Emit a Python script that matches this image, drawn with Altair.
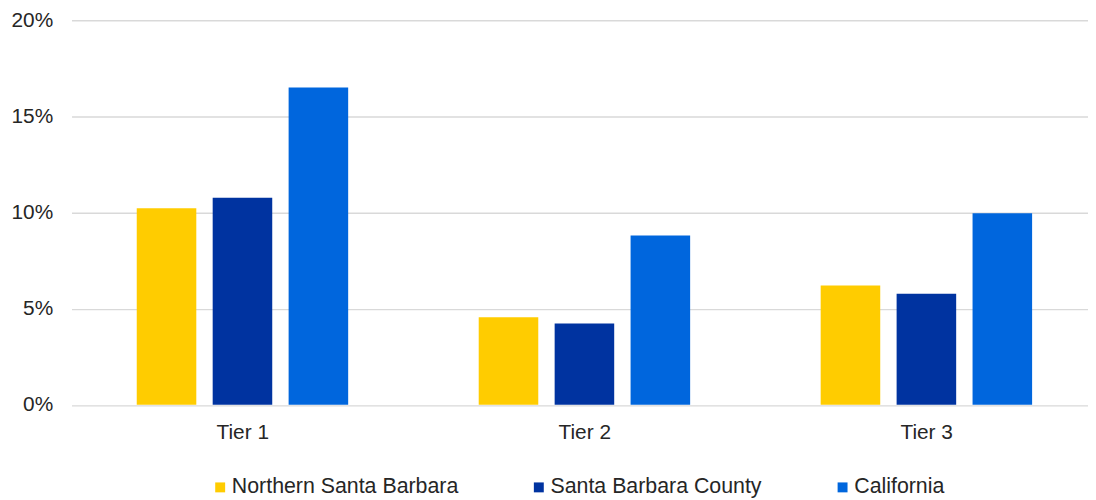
import altair as alt
import pandas as pd

tiers = ["Tier 1", "Tier 2", "Tier 3"]
series = ["Northern Santa Barbara", "Santa Barbara County", "California"]
northern_sb = [0.1023, 0.0456, 0.0621]
sb_county = [0.1077, 0.0423, 0.0578]
california = [0.1650, 0.0881, 0.0996]
colors = ["#FFCC00", "#0033A0", "#0066DD"]

rows = []
for vals, name in zip([northern_sb, sb_county, california], series):
    for t, v in zip(tiers, vals):
        rows.append({"tier": t, "series": name, "value": v})
df = pd.DataFrame(rows)

FONT = "Liberation Sans"
TXT = "#262626"
FS = 21

chart = (
    alt.Chart(df)
    .mark_bar()
    .encode(
        x=alt.X(
            "tier:N",
            sort=tiers,
            title=None,
            scale=alt.Scale(paddingInner=0.02758, paddingOuter=0),
            axis=alt.Axis(
                labelAngle=0,
                domain=False,
                ticks=False,
                grid=False,
                labelFont=FONT,
                labelFontSize=FS,
                labelColor=TXT,
                labelPadding=16.5,
                labelOffset=5,
            ),
        ),
        xOffset=alt.XOffset(
            "series:N",
            sort=series,
            scale=alt.Scale(paddingInner=0.2157, paddingOuter=0.7974, align=0.5385),
        ),
        y=alt.Y(
            "value:Q",
            title=None,
            scale=alt.Scale(domain=[0, 0.2], nice=False),
            axis=alt.Axis(
                format=".0%",
                values=[0, 0.05, 0.1, 0.15, 0.2],
                domain=False,
                ticks=False,
                grid=True,
                gridColor="#d9d9d9",
                gridWidth=1.4,
                labelFont=FONT,
                labelFontSize=FS,
                labelColor=TXT,
                labelPadding=19,
            ),
        ),
        color=alt.Color(
            "series:N",
            sort=series,
            scale=alt.Scale(domain=series, range=colors),
            legend=alt.Legend(
                title=None,
                orient="none",
                direction="horizontal",
                legendX=139,
                legendY=459.5,
                symbolType="square",
                symbolSize=100,
                symbolStrokeWidth=0,
                labelFont=FONT,
                labelFontSize=21.5,
                labelColor=TXT,
                labelLimit=0,
                labelOffset=1,
                columnPadding=70,
                padding=0,
            ),
        ),
    )
    .properties(
        width=1024,
        height=387.5,
        autosize=alt.AutoSizeParams(type="none"),
        padding={"left": 64, "top": 10.5, "right": 0, "bottom": 92},
    )
    .configure_view(stroke=None)
)

chart.save("out.html", embed_options={"renderer": "svg", "actions": False})
